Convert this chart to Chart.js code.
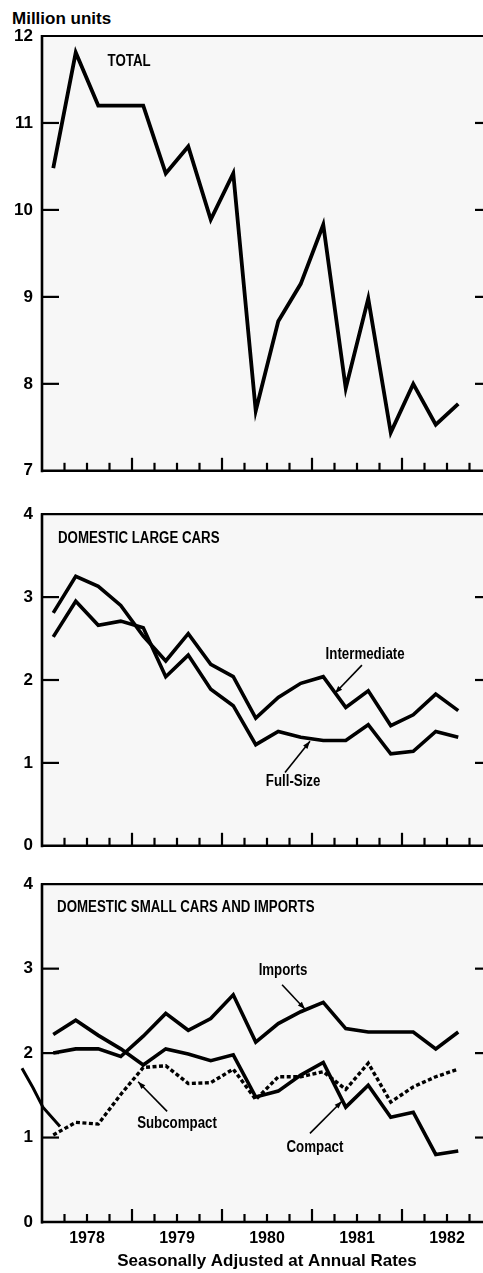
<!DOCTYPE html>
<html><head><meta charset="utf-8">
<script src="https://cdn.jsdelivr.net/npm/chart.js@4.4.0/dist/chart.umd.min.js"></script>
<style>
html,body{margin:0;padding:0;background:#fff;width:483px;height:1273px;overflow:hidden;position:relative}
canvas{position:absolute;left:0}
#unit{position:absolute;left:12px;top:9px;font:bold 17px "Liberation Sans",Arial,sans-serif;color:#000;white-space:nowrap}
</style></head><body>
<div id="unit">Million units</div>
<canvas id="c1" width="500" height="490" style="top:0"></canvas>
<canvas id="c2" width="500" height="370" style="top:495px"></canvas>
<canvas id="c3" width="500" height="408" style="top:865px"></canvas>
<script>
// ---- data (quarterly, seasonally adjusted annual rates, million units) ----
const quarters = ["1978 Q1","1978 Q2","1978 Q3","1978 Q4","1979 Q1","1979 Q2","1979 Q3","1979 Q4",
  "1980 Q1","1980 Q2","1980 Q3","1980 Q4","1981 Q1","1981 Q2","1981 Q3","1981 Q4",
  "1982 Q1","1982 Q2","1982 Q3","1982 Q4"];
const yearLabels = ["1978","1979","1980","1981","1982"];
const total        = [10.48,11.81,11.20,11.20,11.20,10.42,10.73,9.89,10.42,7.69,8.72,9.15,9.83,7.95,8.98,7.44,8.00,7.53,7.77];
const intermediate = [2.81,3.25,3.13,2.90,2.53,2.23,2.56,2.19,2.04,1.54,1.79,1.96,2.04,1.67,1.87,1.45,1.58,1.83,1.63];
const fullSize     = [2.52,2.95,2.66,2.71,2.63,2.04,2.30,1.89,1.69,1.22,1.38,1.31,1.27,1.27,1.46,1.11,1.14,1.38,1.31];
const imports      = [2.00,2.05,2.05,1.96,2.20,2.47,2.27,2.41,2.69,2.13,2.35,2.49,2.60,2.29,2.25,2.25,2.25,2.05,2.25];
const compact      = [2.22,2.39,2.21,2.05,1.86,2.05,1.99,1.91,1.98,1.48,1.55,1.74,1.89,1.36,1.62,1.24,1.30,0.80,0.84];
const subcompact   = [1.03,1.18,1.16,1.51,1.83,1.85,1.64,1.65,1.81,1.45,1.72,1.72,1.78,1.57,1.88,1.42,1.60,1.72,1.81];
const totalRange = [7, 12];
const smallRange = [0, 4];
const largeRange = [0, 4];

const FONT = '"Liberation Sans", Arial, Helvetica, sans-serif';

// frame: panel background, axes, inward ticks, annotations
const framePlugin = {
  id: 'frame',
  beforeDatasetsDraw(chart) {
    const {ctx, chartArea: a} = chart;
    ctx.save();
    ctx.fillStyle = '#f7f7f7';
    ctx.fillRect(a.left, a.top, a.right - a.left, a.bottom - a.top);
    ctx.restore();
  },
  afterDatasetsDraw(chart) {
    const {ctx, chartArea: a, scales: {x, y}} = chart;
    ctx.save();
    ctx.strokeStyle = '#000';
    ctx.lineCap = 'butt';
    const line = (x1, y1, x2, y2, w) => { ctx.lineWidth = w; ctx.beginPath(); ctx.moveTo(x1, y1); ctx.lineTo(x2, y2); ctx.stroke(); };
    line(a.left, a.top - 1, a.left, a.bottom + 1.5, 2.6);
    line(a.left - 1, a.bottom, a.right, a.bottom, 2.6);
    line(a.left - 1, a.top, a.right, a.top, 2.2);
    y.ticks.forEach(t => {
      const py = y.getPixelForValue(t.value);
      if (py > a.top + 2 && py < a.bottom - 2) {
        line(a.left, py, a.left + 17, py, 2.2);
        line(a.right - 17, py, a.right, py, 2.2);
      }
    });
    const n = x.getLabels().length;
    for (let i = 1; i <= n; i++) {
      const px = x.getPixelForValue(i - 0.5);
      const h = (i % 4 === 0) ? 13 : 8;
      line(px, a.bottom, px, a.bottom - h, 2.2);
    }
    ctx.restore();
  },
  afterDraw(chart, args, opts) {
    const {ctx, scales: {x, y}} = chart;
    const P = (v, val) => [x.getPixelForValue(v), y.getPixelForValue(val)];
    ctx.save();
    (opts.texts || []).forEach(t => {
      const [px, py] = P(t.v, t.y);
      ctx.save();
      ctx.font = 'bold 16px ' + FONT;
      ctx.fillStyle = '#000';
      ctx.textAlign = t.align || 'center';
      ctx.textBaseline = 'middle';
      ctx.translate(px, py);
      ctx.scale(0.83, 1);   // condensed face
      ctx.fillText(t.text, 0, 0);
      ctx.restore();
    });
    ctx.strokeStyle = '#000';
    (opts.arrows || []).forEach(ar => {
      const [x1, y1] = P(ar.from[0], ar.from[1]);
      const [x2, y2] = P(ar.to[0], ar.to[1]);
      ctx.lineWidth = 1.6;
      ctx.beginPath(); ctx.moveTo(x1, y1); ctx.lineTo(x2, y2); ctx.stroke();
      const ang = Math.atan2(y2 - y1, x2 - x1), L = 8, W = 0.35;
      ctx.fillStyle = '#000';
      ctx.beginPath();
      ctx.moveTo(x2, y2);
      ctx.lineTo(x2 - L * Math.cos(ang - W), y2 - L * Math.sin(ang - W));
      ctx.lineTo(x2 - L * Math.cos(ang + W), y2 - L * Math.sin(ang + W));
      ctx.closePath(); ctx.fill();
    });
    (opts.polylines || []).forEach(pl => {
      ctx.lineWidth = 3;
      ctx.beginPath();
      pl.forEach((p, i) => { const [px, py] = P(p[0], p[1]); i ? ctx.lineTo(px, py) : ctx.moveTo(px, py); });
      ctx.stroke();
    });
    ctx.restore();
  }
};

function lineDs(data, dashed, width) {
  return {
    data, borderColor: '#000', borderWidth: width || 3.6, pointRadius: 0, tension: 0,
    borderDash: dashed ? [4, 2.5] : [], borderJoinStyle: 'miter', borderCapStyle: 'butt', fill: false
  };
}

function makeChart(id, datasets, range, padding, bottom, annot) {
  const xScale = {
    type: 'category', labels: quarters, offset: true,
    grid: {display: false, drawTicks: false}, border: {display: false},
    display: bottom,
    ticks: {
      display: bottom, autoSkip: false, maxRotation: 0, minRotation: 0,
      padding: 7, labelOffset: 11.25, color: '#000',
      font: {family: FONT, size: 16, weight: 'bold'},
      callback: (v, i) => (i % 4 === 1) ? yearLabels[(i - 1) / 4] : ''
    },
    title: {
      display: bottom, text: 'Seasonally Adjusted at Annual Rates', color: '#000',
      font: {family: FONT, size: 17, weight: 'bold'}, padding: {top: 0, bottom: 1}
    },
    afterFit: s => { if (bottom) s.height = 51; }
  };
  return new Chart(document.getElementById(id), {
    type: 'line',
    data: {labels: quarters, datasets},
    options: {
      responsive: false, animation: false, devicePixelRatio: 1,
      layout: {padding},
      plugins: {legend: {display: false}, tooltip: {enabled: false}, title: {display: false}, frame: annot},
      scales: {
        x: xScale,
        y: {
          min: range[0], max: range[1],
          grid: {display: false, drawTicks: false}, border: {display: false},
          ticks: {stepSize: 1, padding: 9, color: '#000', font: {family: FONT, size: 17, weight: 'bold'}},
          afterFit: s => { s.width = 42; }
        }
      }
    },
    plugins: [framePlugin]
  });
}

makeChart('c1', [lineDs(total, false, 3.8)], totalRange,
  {top: 36, bottom: 8, left: 0, right: 8}, false,
  {texts: [{text: 'TOTAL', v: 3.37, y: 11.71}]});

makeChart('c2', [lineDs(intermediate), lineDs(fullSize)], largeRange,
  {top: 9, bottom: 13, left: 0, right: 8}, false,
  {texts: [
    {text: 'DOMESTIC LARGE CARS', v: 0.21, y: 3.70, align: 'left'},
    {text: 'Intermediate', v: 13.86, y: 2.31},
    {text: 'Full-Size', v: 10.66, y: 0.77}
  ],
  arrows: [
    {from: [13.72, 2.18], to: [12.52, 1.84]},
    {from: [10.30, 0.885], to: [11.41, 1.26]}
  ]});

makeChart('c3', [lineDs(imports), lineDs(compact), lineDs(subcompact, true, 3.4)], smallRange,
  {top: 8, bottom: 0, left: 0, right: 8}, true,
  {texts: [
    {text: 'DOMESTIC SMALL CARS AND IMPORTS', v: 0.17, y: 3.72, align: 'left'},
    {text: 'Imports', v: 10.21, y: 2.98},
    {text: 'Subcompact', v: 5.5, y: 1.16},
    {text: 'Compact', v: 11.63, y: 0.88}
  ],
  arrows: [
    {from: [10.17, 2.81], to: [11.19, 2.52]},
    {from: [5.06, 1.31], to: [3.77, 1.66]},
    {from: [11.41, 1.05], to: [12.83, 1.43]}
  ],
  polylines: [[[-1.39, 1.82], [-0.9, 1.59], [-0.46, 1.36], [0.3, 1.13]]]});
</script>
</body></html>
